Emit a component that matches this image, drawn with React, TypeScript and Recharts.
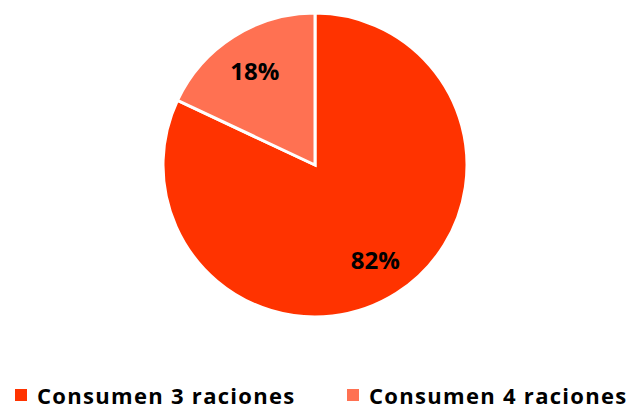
import React from 'react';
import { PieChart, Pie, Cell, Legend } from 'recharts';

const categories = ['Consumen 3 raciones', 'Consumen 4 raciones'];
const percents = [82, 18];
const colors = ['#FF3300', '#FF7152'];

const data = categories.map((name, i) => ({ name, value: percents[i] }));

const RADIAN = Math.PI / 180;
const FONT = '"Open Sans", Lato, sans-serif';

const renderLabel = (props: any) => {
  const { cx, cy, midAngle, outerRadius, value } = props;
  const r = outerRadius * 0.74;
  const x = cx + r * Math.cos(-midAngle * RADIAN);
  const y = cy + r * Math.sin(-midAngle * RADIAN);
  return (
    <text x={x} y={y} textAnchor="middle" dominantBaseline="central"
      fill="#000" fontSize={24} fontWeight={700} fontFamily={FONT}>
      {value}%
    </text>
  );
};

const renderLegend = (props: any) => {
  const { payload } = props;
  return (
    <div style={{ position: 'relative', height: 26, fontFamily: FONT }}>
      {payload.map((entry: any, i: number) => (
        <div key={i} style={{
          position: 'absolute', left: i === 0 ? 15 : 347, top: 0, height: 26,
          display: 'flex', alignItems: 'center', whiteSpace: 'nowrap',
        }}>
          <span style={{ width: 12, height: 12, background: entry.color, display: 'inline-block', marginRight: 10 }} />
          <span style={{ fontSize: 22, lineHeight: '26px', fontWeight: 700, letterSpacing: 1.3, color: '#000' }}>{entry.value}</span>
        </div>
      ))}
    </div>
  );
};

const App: React.FC = () => {
  return (
    <div style={{ position: 'absolute', left: 0, top: 0, width: 631, height: 411, background: '#fff' }}>
      <PieChart width={631} height={411} margin={{ top: 0, right: 0, bottom: 0, left: 0 }}>
        <Pie
          data={data}
          dataKey="value"
          nameKey="name"
          cx={315}
          cy={165}
          outerRadius={152}
          startAngle={90}
          endAngle={-270}
          stroke="#fff"
          strokeWidth={3}
          label={renderLabel}
          labelLine={false}
          isAnimationActive={false}
        >
          {data.map((d, i) => <Cell key={d.name} fill={colors[i]} />)}
        </Pie>
        <Legend content={renderLegend} verticalAlign="bottom" wrapperStyle={{ top: 382, left: 0, width: 631 }} />
      </PieChart>
    </div>
  );
};

export default App;
